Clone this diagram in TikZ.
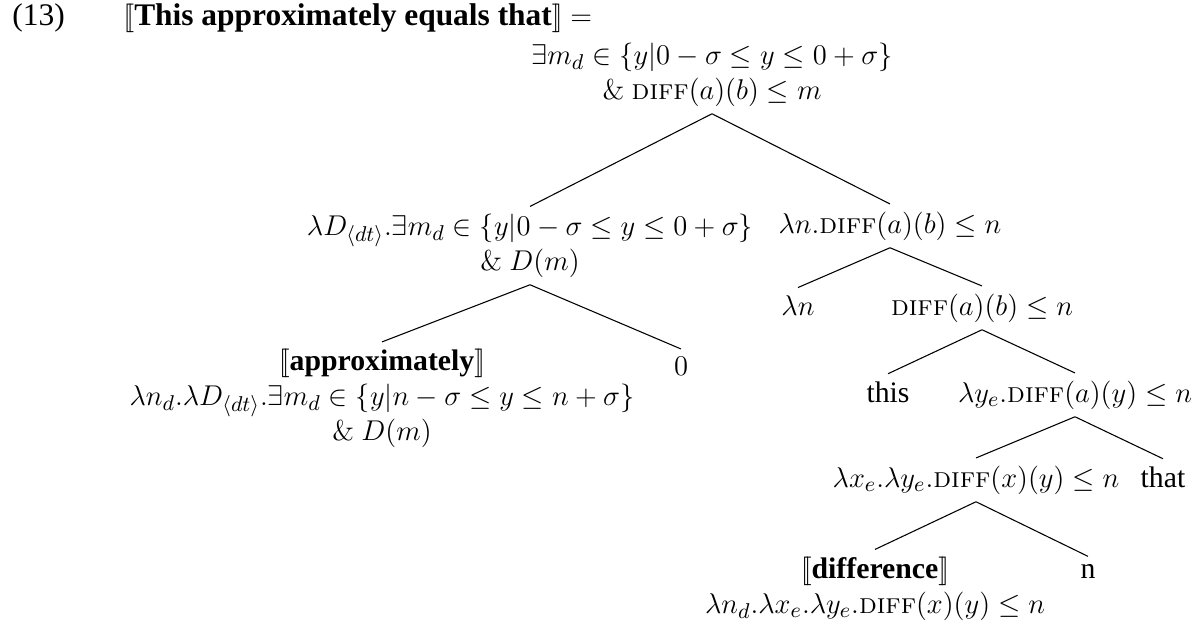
\documentclass[tikz,border=0pt]{standalone}
\usepackage{amsmath,amssymb}
\usepackage[no-math]{fontspec}
\setmainfont{Liberation Serif}
\usetikzlibrary{positioning}
\newcommand{\dif}{\text{\usefont{OT1}{cmr}{m}{sc}diff}}
\newcommand{\sem}[1]{$[\![$\textbf{#1}$]\!]$}

\begin{document}
\begin{tikzpicture}[x=0.42pt,y=-0.42pt,
  every node/.style={font=\fontsize{12.5}{14.5}\selectfont},
  lbl/.style={anchor=base, align=center, inner xsep=0pt, inner ysep=3pt},
  heading/.style={anchor=base west, inner sep=0pt, font=\fontsize{13.2}{16}\selectfont},
  branch/.style={line width=0.45pt}]
  \useasboundingbox (0,0) rectangle (1199,625);

  % Example heading
  \node[heading] (num) at (12,25) {(13)};
  \node[heading] (title) at (123,25) {\sem{This approximately equals that} $=$};

  % Root and first split (base = last line)
  \node[lbl] (root) at (712,99) {$\exists m_d \in \{y|0-\sigma \le y \le 0+\sigma\}$\\ $\&\ \dif(a)(b) \le m$};
  \node[lbl] (degp) at (530,270) {$\lambda D_{\langle dt\rangle}.\exists m_d \in \{y|0-\sigma \le y \le 0+\sigma\}$\\ $\&\ D(m)$};
  \node[lbl] (absn) at (890,233) {$\lambda n.\dif(a)(b) \le n$};

  % Degree phrase
  \node[lbl] (approx) at (382,440) {\sem{approximately}\\ $\lambda n_d.\lambda D_{\langle dt\rangle}.\exists m_d \in \{y|n-\sigma \le y \le n+\sigma\}$\\ $\&\ D(m)$};
  \node[lbl] (zero) at (681,375) {$0$};

  % Lambda abstraction
  \node[lbl] (lamn) at (798,315) {$\lambda n$};
  \node[lbl] (diffab) at (982,315) {$\dif(a)(b) \le n$};

  % Subject and predicate
  \node[lbl] (this) at (888,402) {this};
  \node[lbl] (lamy) at (1075,402) {$\lambda y_e.\dif(a)(y) \le n$};

  \node[lbl] (lamxy) at (976,487) {$\lambda x_e.\lambda y_e.\dif(x)(y) \le n$};
  \node[lbl] (that) at (1163,487) {that};

  \node[lbl] (diffw) at (875,613) {\sem{difference}\\ $\lambda n_d.\lambda x_e.\lambda y_e.\dif(x)(y) \le n$};
  \node[lbl] (nvar) at (1088,578) {n};

  % Branches
  \draw[branch] (root.south) -- (degp.north);
  \draw[branch] (root.south) -- (absn.north);
  \draw[branch] (degp.south) -- (approx.north);
  \draw[branch] (degp.south) -- (zero.north);
  \draw[branch] (absn.south) -- (lamn.north);
  \draw[branch] (absn.south) -- (diffab.north);
  \draw[branch] (diffab.south) -- (this.north);
  \draw[branch] (diffab.south) -- (lamy.north);
  \draw[branch] (lamy.south) -- (lamxy.north);
  \draw[branch] (lamy.south) -- (that.north);
  \draw[branch] (lamxy.south) -- (diffw.north);
  \draw[branch] (lamxy.south) -- (nvar.north);
\end{tikzpicture}
\end{document}
